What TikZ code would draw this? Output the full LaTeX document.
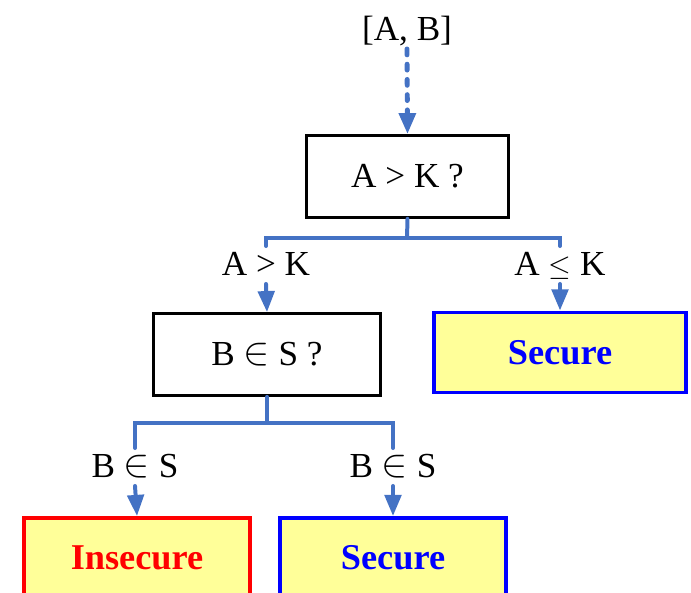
\documentclass[tikz,border=0pt]{standalone}
\usepackage{fontspec}
\setmainfont{Liberation Serif}
\usetikzlibrary{calc,arrows.meta,shapes}
\definecolor{linkblue}{RGB}{68,114,196}
\definecolor{boxyellow}{RGB}{255,255,153}
\newcommand\elem{\raisebox{0.5pt}{\scalebox{1.35}{$\in$}}}
\tikzset{
  txt/.style={font=\fontsize{30}{36}\selectfont,inner xsep=1pt,inner ysep=4pt,
    text height=21pt,text depth=3pt},
  question/.style={txt,draw=black,line width=2.6pt,minimum height=2.45cm},
  outcome/.style={draw=#1,text=#1,fill=boxyellow,line width=3.4pt,
    font=\fontsize{31}{36}\selectfont\bfseries,minimum height=2.4cm},
  conn/.style={draw=linkblue,line width=3.4pt,line cap=round},
  arr/.style={conn,-{Triangle[width=14pt,length=18pt,fill=linkblue]}}
}
\newcommand\outcomebox[6]{% name, x, y, width, colour, text
\node (#1) at (#2,#3) [outcome=#5,minimum width=#4] {#6};}

\begin{document}
\begin{tikzpicture}[x=0.03cm,y=-0.03cm]
      \useasboundingbox (0,0) rectangle (691,593);

      \node (in) at (407,30) [txt] {[A, B]};
      \node (q1) at (407.5,176.5) [question,minimum width=6.05cm] {A > K ?};
      \node (q2) at (267,354.5) [question,minimum width=6.8cm] {B \elem{} S ?};

      \node (l1) at (266,265) [txt] {A > K};
      \node (l2) at (560,265) [txt] {A $\leq$ K};
      \node (l3) at (135,467) [txt] {B \elem{} S};
      \node (l4) at (393,467) [txt] {B \elem{} S};

      \outcomebox{s1}{560}{352.5}{7.55cm}{blue}{Secure}
      \outcomebox{u2}{137}{558}{6.8cm}{red}{Insecure}
      \outcomebox{s2}{393}{558}{6.8cm}{blue}{Secure}

      \coordinate (j1) at (407,238);
      \coordinate (j2) at (267,423);

      \draw[arr,dash pattern=on 5pt off 8pt,line width=4.2pt] (in.south) -- (q1.north);
      \draw[conn] (q1.south) -- (j1);
      \draw[conn] (j1) -| (l1.north);
      \draw[conn] (j1) -| (l2.north);
      \draw[arr] (l1.south) -- (q2.north);
      \draw[arr] (l2.south) -- (s1.north);

      \draw[conn] (q2.south) -- (j2);
      \draw[conn] (j2) -| (l3.north);
      \draw[conn] (j2) -| (l4.north);
      \draw[arr] (l3.south) -- (u2.north);
      \draw[arr] (l4.south) -- (s2.north);
    \end{tikzpicture}
\end{document}
